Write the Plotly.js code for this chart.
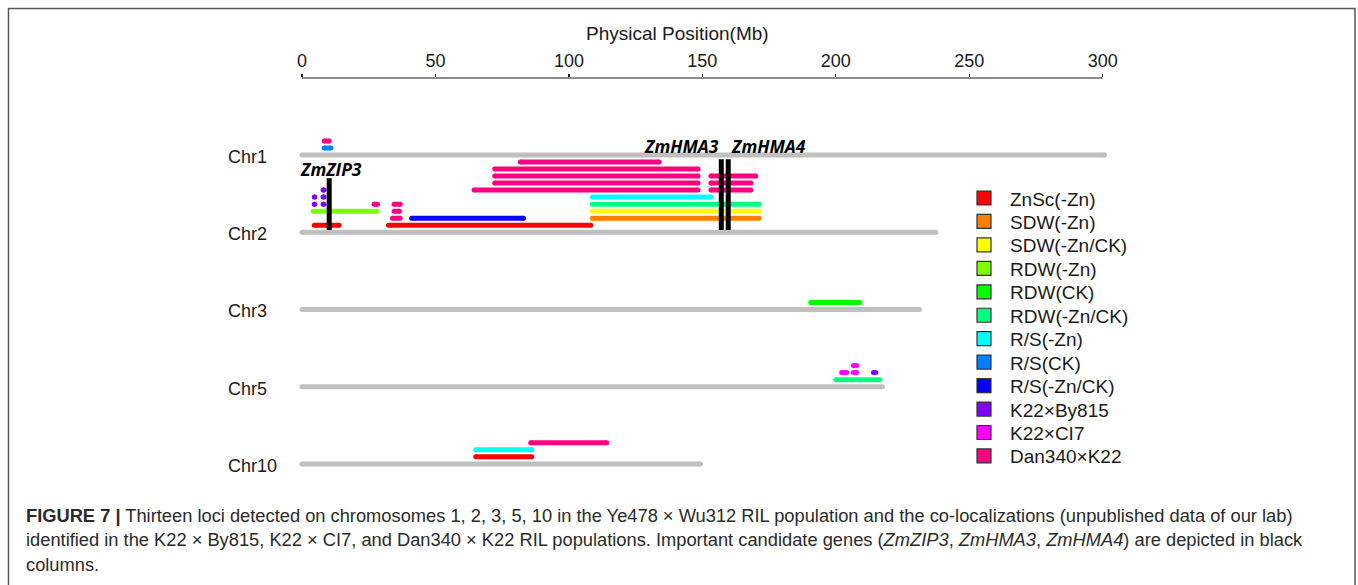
<!DOCTYPE html>
<html>
<head>
<meta charset="utf-8">
<script src="https://cdn.plot.ly/plotly-3.0.1.min.js"></script>
<style>
html,body{margin:0;padding:0;background:#fff;}
#chart{width:1358px;height:585px;}
</style>
</head>
<body>
<div id="chart"></div>
<script>
// ---------- DATA ----------
const chrNames   = ["Chr1", "Chr2", "Chr3", "Chr5", "Chr10"];
const chrLengths = [300.7, 237.5, 231.4, 217.5, 149.3];   // Mb
const xTicks     = [0, 50, 100, 150, 200, 250, 300];

// each locus: [chromosome, stack level above chromosome, start Mb, end Mb]
const ZnSc_Zn    = [["Chr2",1,4.6,13.9],["Chr2",1,32.4,108.2],["Chr10",1,65.1,86.1]];
const SDW_Zn     = [["Chr2",2,108.8,171.3]];
const SDW_ZnCK   = [["Chr2",3,108.8,171.3]];
const RDW_Zn     = [["Chr2",3,4.2,28.0]];
const RDW_CK     = [["Chr3",1,190.6,209.0]];
const RDW_ZnCK   = [["Chr2",4,108.8,171.3],["Chr5",1,200.0,216.5]];
const RS_Zn      = [["Chr2",5,108.8,153.2],["Chr10",2,65.1,86.1]];
const RS_CK      = [["Chr1",1,8.3,10.8]];
const RS_ZnCK    = [["Chr2",2,41.1,83.0]];
const K22_By815  = [["Chr2",4,4.6,4.8],["Chr2",4,7.9,8.3],["Chr2",5,4.6,4.8],["Chr2",5,7.9,8.3],
                    ["Chr2",6,7.9,8.3],["Chr5",2,214.1,215.0]];
const K22_CI7    = [["Chr5",2,202.2,204.1],["Chr5",2,206.6,207.8],["Chr5",3,206.6,207.8]];
const Dan340_K22 = [["Chr1",2,8.3,10.2],["Chr2",2,33.9,36.8],["Chr2",3,34.5,36.5],["Chr2",4,27.0,28.3],
                    ["Chr2",4,34.5,36.8],["Chr2",6,64.5,148.4],["Chr2",6,153.2,168.2],["Chr2",7,72.2,148.4],
                    ["Chr2",7,153.2,168.2],["Chr2",8,72.2,148.4],["Chr2",8,153.2,170.0],["Chr2",9,72.2,148.4],
                    ["Chr2",10,81.8,133.8],["Chr10",3,85.7,114.2]];

const seriesNames  = ["ZnSc(-Zn)","SDW(-Zn)","SDW(-Zn/CK)","RDW(-Zn)","RDW(CK)","RDW(-Zn/CK)",
                      "R/S(-Zn)","R/S(CK)","R/S(-Zn/CK)","K22×By815","K22×CI7","Dan340×K22"];
const seriesColors = ["#ff0000","#ff8000","#ffff00","#80ff00","#00ff00","#00ff80",
                      "#00ffff","#0080ff","#0000ff","#8000ff","#ff00ff","#ff0080"];
const seriesData   = [ZnSc_Zn, SDW_Zn, SDW_ZnCK, RDW_Zn, RDW_CK, RDW_ZnCK,
                      RS_Zn, RS_CK, RS_ZnCK, K22_By815, K22_CI7, Dan340_K22];

const geneNames  = ["ZmZIP3", "ZmHMA3", "ZmHMA4"];
const geneChr    = ["Chr2", "Chr2", "Chr2"];
const genePos    = [10.2, 157.1, 159.7];
const geneTop    = [7.7, 10.4, 10.4];
const geneBottom = [0.3, 0.3, 0.3];

const captionLines = [
  "<b>FIGURE 7 |</b> Thirteen loci detected on chromosomes 1, 2, 3, 5, 10 in the Ye478 × Wu312 RIL population and the co-localizations (unpublished data of our lab)",
  "identified in the K22 × By815, K22 × CI7, and Dan340 × K22 RIL populations. Important candidate genes (<i>ZmZIP3</i>, <i>ZmHMA3</i>, <i>ZmHMA4</i>) are depicted in black",
  "columns."
];

// ---------- BUILD ----------
const W = 1358, H = 585;
const ROW = 11;                       // rows between chromosomes
const yBase = c => chrNames.indexOf(c) * ROW;
const FONT = "Liberation Sans, Arial, Helvetica, sans-serif";

const traces = [];

// chromosomes
const cx = [], cy = [];
chrNames.forEach((c, i) => { cx.push(0, chrLengths[i], null); cy.push(yBase(c), yBase(c), null); });
traces.push({x: cx, y: cy, mode: "lines+markers", type: "scatter", showlegend: false, hoverinfo: "skip",
  line: {color: "#c0c0c0", width: 5}, marker: {color: "#c0c0c0", size: 5, line: {width: 0}}});

// loci
seriesData.forEach((segs, k) => {
  const x = [], y = [];
  segs.forEach(s => { const yy = yBase(s[0]) - s[1]; x.push(s[2], s[3], null); y.push(yy, yy, null); });
  traces.push({x, y, name: seriesNames[k], mode: "lines+markers", type: "scatter", showlegend: false,
    hoverinfo: "skip", line: {color: seriesColors[k], width: 5},
    marker: {color: seriesColors[k], size: 5, line: {width: 0}}});
});

// gene columns
const gx = [], gy = [];
geneNames.forEach((g, i) => {
  gx.push(genePos[i], genePos[i], null);
  gy.push(yBase(geneChr[i]) - geneTop[i], yBase(geneChr[i]) - geneBottom[i], null);
});
traces.push({x: gx, y: gy, mode: "lines", type: "scatter", showlegend: false, hoverinfo: "skip",
  line: {color: "#000000", width: 5}});

// ---------- LAYOUT ----------
const axisTopPx = 78;
const pxPerMb = 2.669, x0px = 302;
const xr = [-20, 320];
const pxPerRow = 7.02, chr1Px = 155;
const yRange = [(H - chr1Px) / pxPerRow, (axisTopPx - chr1Px) / pxPerRow];

const annotations = [];
const shapes = [];

annotations.push({text: "Physical Position(Mb)", xref: "paper", yref: "paper",
  x: 677 / W, y: 1 - 33 / H, xanchor: "center", yanchor: "middle", showarrow: false,
  font: {family: FONT, size: 19, color: "#1a1a1a"}});

chrNames.forEach(c => annotations.push({text: c, xref: "paper", yref: "y", x: 226 / W, y: yBase(c),
  xanchor: "left", yanchor: "middle", yshift: -2, showarrow: false,
  font: {family: FONT, size: 18, color: "#1a1a1a"}}));

const geneFont = {family: "Open Sans, DejaVu Sans, sans-serif", size: 17.5, color: "#000"};
annotations.push({text: "<b><i>" + geneNames[0] + "</i></b>", xref: "x", yref: "y", x: genePos[0] + 0.5,
  y: yBase(geneChr[0]) - 9.0, xanchor: "center", yanchor: "middle", showarrow: false, font: geneFont});
annotations.push({text: "<b><i>" + geneNames[1] + "</i></b>", xref: "x", yref: "y", x: genePos[1] - 0.2,
  y: yBase(geneChr[1]) - 12.3, xanchor: "right", yanchor: "middle", showarrow: false, font: geneFont});
annotations.push({text: "<b><i>" + geneNames[2] + "</i></b>", xref: "x", yref: "y", x: genePos[2] + 0.2,
  y: yBase(geneChr[2]) - 12.3, xanchor: "left", yanchor: "middle", showarrow: false, font: geneFont});

// manual legend
seriesNames.forEach((n, k) => {
  const cy = 198 + k * 23.45;
  shapes.push({type: "rect", xref: "paper", yref: "paper",
    x0: 977 / W, x1: 991 / W, y0: 1 - (cy + 7) / H, y1: 1 - (cy - 7) / H,
    fillcolor: seriesColors[k], line: {color: "#333", width: 1.2}});
  annotations.push({text: n, xref: "paper", yref: "paper", x: 1008 / W, y: 1 - (cy + 1) / H,
    xanchor: "left", yanchor: "middle", showarrow: false,
    font: {family: FONT, size: 19, color: "#1a1a1a"}});
});

// caption
captionLines.forEach((t, i) => annotations.push({text: t, xref: "paper", yref: "paper",
  x: 24 / W, y: 1 - (515 + i * 24.5) / H, xanchor: "left", yanchor: "middle", showarrow: false,
  font: {family: FONT, size: 18.3, color: "#2a2a2a"}}));

// axis line (0-300) and frame
shapes.push({type: "line", xref: "x", yref: "paper", x0: 0, x1: 300, y0: 1 - axisTopPx / H, y1: 1 - axisTopPx / H,
  line: {color: "#1a1a1a", width: 1.2}});
shapes.push({type: "rect", xref: "paper", yref: "paper", x0: 8.5 / W, x1: 1355 / W, y0: -0.05, y1: 1 - 8.5 / H,
  line: {color: "#555", width: 1.5}, fillcolor: "rgba(0,0,0,0)"});

const layout = {
  width: W, height: H,
  margin: {l: 0, r: 0, t: 0, b: 0, pad: 0},
  paper_bgcolor: "#ffffff", plot_bgcolor: "#ffffff",
  showlegend: false,
  xaxis: {
    domain: [(x0px + xr[0] * pxPerMb) / W, (x0px + xr[1] * pxPerMb) / W],
    range: xr, side: "top", tickmode: "array", tickvals: xTicks, ticktext: xTicks.map(String),
    ticks: "outside", ticklen: 3, tickwidth: 1.2, tickcolor: "#1a1a1a",
    showgrid: false, zeroline: false, showline: false, automargin: false, fixedrange: true,
    tickfont: {family: FONT, size: 18, color: "#1a1a1a"}
  },
  yaxis: {
    domain: [0, 1 - axisTopPx / H], range: yRange, visible: false,
    showgrid: false, zeroline: false, automargin: false, fixedrange: true
  },
  annotations, shapes
};

Plotly.newPlot("chart", traces, layout, {staticPlot: true, displayModeBar: false});
</script>
</body>
</html>
